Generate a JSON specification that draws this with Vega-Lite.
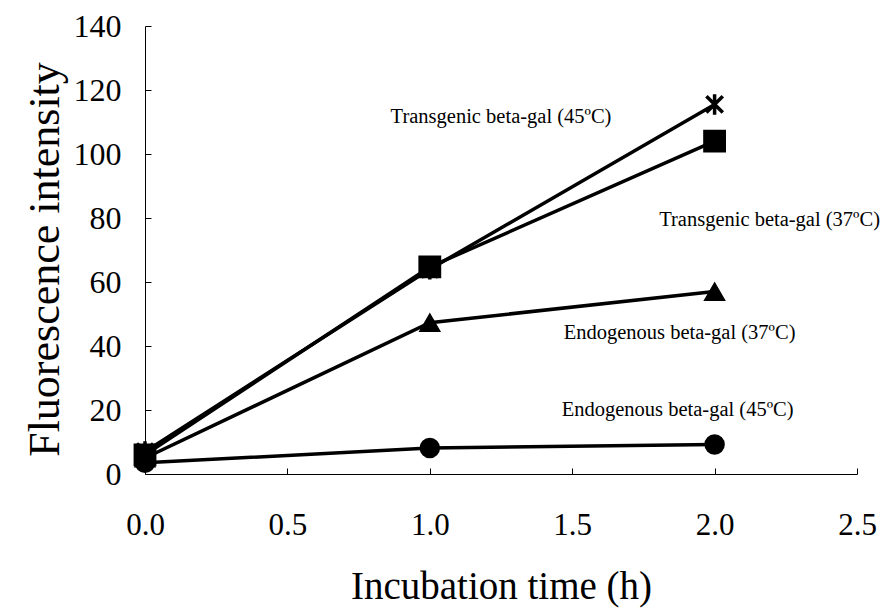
{
  "$schema": "https://vega.github.io/schema/vega-lite/v6.json",
  "width": 712,
  "height": 448,
  "autosize": "none",
  "padding": {"left": 145, "top": 26, "right": 31, "bottom": 139},
  "background": "white",
  "config": {
    "view": {"stroke": null},
    "font": "Liberation Serif"
  },
  "datasets": {
    "pts": [
      {"series": "T45", "time": 0, "value": 7},
      {"series": "T45", "time": 1, "value": 64},
      {"series": "T45", "time": 2, "value": 115.5},
      {"series": "T37", "time": 0, "value": 6},
      {"series": "T37", "time": 1, "value": 64.7},
      {"series": "T37", "time": 2, "value": 104},
      {"series": "E37", "time": 0, "value": 5},
      {"series": "E37", "time": 1, "value": 47.3},
      {"series": "E37", "time": 2, "value": 57},
      {"series": "E45", "time": 0, "value": 3.5},
      {"series": "E45", "time": 1, "value": 8.1},
      {"series": "E45", "time": 2, "value": 9.2}
    ],
    "labels": [
      {"label": "Transgenic beta-gal (45ºC)", "time": 1.25, "value": 111.5},
      {"label": "Transgenic beta-gal (37ºC)", "time": 2.193, "value": 79.5},
      {"label": "Endogenous beta-gal (37ºC)", "time": 1.877, "value": 44},
      {"label": "Endogenous beta-gal (45ºC)", "time": 1.870, "value": 20}
    ]
  },
  "layer": [
    {
      "data": {"name": "pts"},
      "mark": {"type": "line", "color": "black", "strokeWidth": 3.5, "clip": false},
      "encoding": {
        "x": {
          "field": "time", "type": "quantitative",
          "scale": {"domain": [0, 2.5], "nice": false, "zero": false},
          "axis": {
            "title": "Incubation time (h)",
            "titleFont": "Liberation Serif", "titleFontSize": 39, "titleFontWeight": "normal",
            "titleColor": "black", "titlePadding": 27,
            "values": [0, 0.5, 1, 1.5, 2, 2.5], "format": ".1f",
            "labelFont": "Liberation Serif", "labelFontSize": 31, "labelColor": "black",
            "labelPadding": 42, "tickSize": -6, "tickColor": "black", "tickWidth": 1,
            "domainColor": "black", "domainWidth": 1, "grid": false, "labelFlush": false
          }
        },
        "y": {
          "field": "value", "type": "quantitative",
          "scale": {"domain": [0, 140], "nice": false},
          "axis": {
            "title": "Fluorescence intensity",
            "titleFont": "Liberation Serif", "titleFontSize": 44, "titleFontWeight": "normal",
            "titleColor": "black", "titlePadding": 6, "titleY": 233,
            "values": [0, 20, 40, 60, 80, 100, 120, 140],
            "labelFont": "Liberation Serif", "labelFontSize": 32, "labelColor": "black",
            "labelPadding": 30, "tickSize": -6, "tickColor": "black", "tickWidth": 1,
            "domainColor": "black", "domainWidth": 1, "grid": false, "labelFlush": false
          }
        },
        "detail": {"field": "series"}
      }
    },
    {
      "data": {"name": "pts"},
      "mark": {"type": "point", "filled": true, "opacity": 1, "color": "black", "clip": false},
      "encoding": {
        "x": {"field": "time", "type": "quantitative"},
        "y": {"field": "value", "type": "quantitative"},
        "shape": {
          "field": "series", "type": "nominal",
          "scale": {"domain": ["T45", "T37", "E37", "E45"],
                    "range": ["M-0.8,-0.8L0.8,0.8M-0.8,0.8L0.8,-0.8M0,-1L0,1", "square", "triangle-up", "circle"]},
          "legend": null
        },
        "size": {
          "field": "series", "type": "nominal",
          "scale": {"domain": ["T45", "T37", "E37", "E45"], "range": [420, 420, 340, 350]},
          "legend": null
        },
        "strokeWidth": {
          "field": "series", "type": "nominal",
          "scale": {"domain": ["T45", "T37", "E37", "E45"], "range": [3.5, 0, 0, 0]},
          "legend": null
        },
        "stroke": {"value": "black"}
      }
    },
    {
      "data": {"name": "labels"},
      "mark": {"type": "text", "font": "Liberation Serif", "fontSize": 20.5, "color": "black", "align": "center", "baseline": "middle", "clip": false},
      "encoding": {
        "x": {"field": "time", "type": "quantitative"},
        "y": {"field": "value", "type": "quantitative"},
        "text": {"field": "label"}
      }
    }
  ]
}
